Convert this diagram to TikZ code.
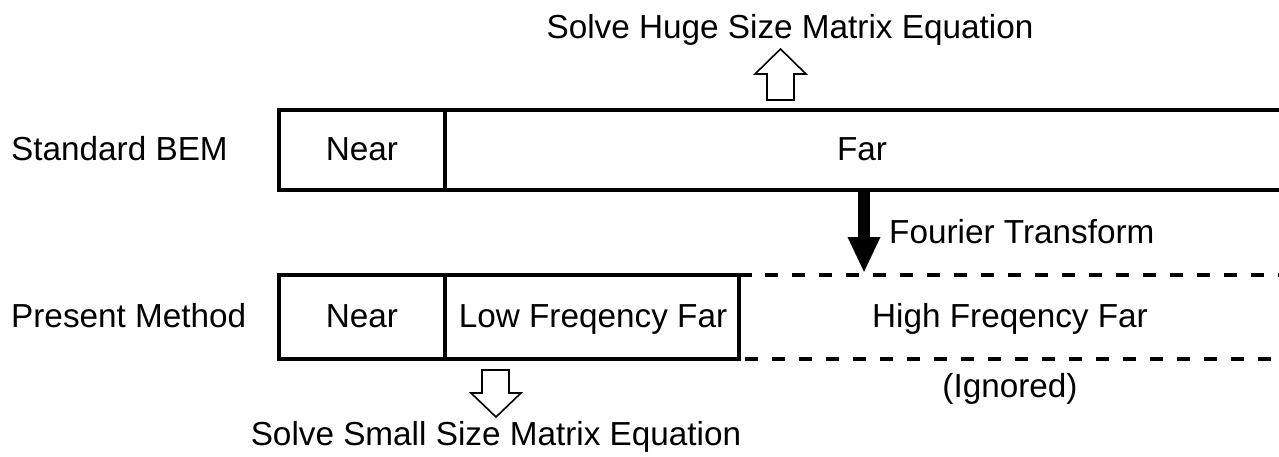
\documentclass[tikz,border=0pt]{standalone}
\usepackage{fontspec}
\setmainfont{Liberation Sans}
\usetikzlibrary{arrows.meta}
\begin{document}
\begin{tikzpicture}[x=1pt,y=-1pt,
  lbl/.style={font=\fontsize{33.3}{38}\selectfont, inner sep=0pt},
  thick line/.style={line width=4pt},
  dash line/.style={line width=4pt, dash pattern=on 13pt off 14pt},
  hollow/.style={draw, line width=1.6pt, fill=white, line join=miter}]
\useasboundingbox (0,0) rectangle (1279,456);
% Standard BEM row
\draw[thick line] (1279,110) -- (279,110) -- (279,190) -- (1279,190);
\draw[thick line] (445,110) -- (445,190);
% Present Method row
\draw[thick line] (752,275) -- (279,275) -- (279,358.5) -- (739,358.5) -- (739,275);
\draw[thick line] (445,275) -- (445,358.5);
\draw[dash line] (765,275) -- (1279,275);
\draw[dash line] (745,358.5) -- (1279,358.5);
% labels
\node[lbl, anchor=west] (std) at (11,149) {Standard BEM};
\node[lbl] (near1) at (362,149) {Near};
\node[lbl] (far) at (862,149) {Far};
\node[lbl, anchor=west] (pm) at (11,316) {Present Method};
\node[lbl] (near2) at (362,316) {Near};
\node[lbl] (low) at (593,319) {Low Freqency Far};
\node[lbl] (high) at (1010,319) {High Freqency Far};
\node[lbl] (ign) at (1010,389) {(Ignored)};
\node[lbl] (huge) at (790,30) {Solve Huge Size Matrix Equation};
\node[lbl] (small) at (496,437) {Solve Small Size Matrix Equation};
\node[lbl, anchor=west] (ft) at (889,232) {Fourier Transform};
% thick arrow
\coordinate (fa) at (864,190);
\coordinate (fb) at (864,273);
\draw[line width=12pt, -{Triangle[length=36pt,width=30pt]}] (fa) -- (fb);
% hollow up arrow
\draw[hollow] (767,100) -- (767,74) -- (755,74) -- (780.5,49) -- (806,74) -- (794,74) -- (794,100) -- cycle;
% hollow down arrow
\draw[hollow] (482,370) -- (482,393) -- (471,393) -- (496,417) -- (521,393) -- (509,393) -- (509,370) -- cycle;
\end{tikzpicture}
\end{document}
